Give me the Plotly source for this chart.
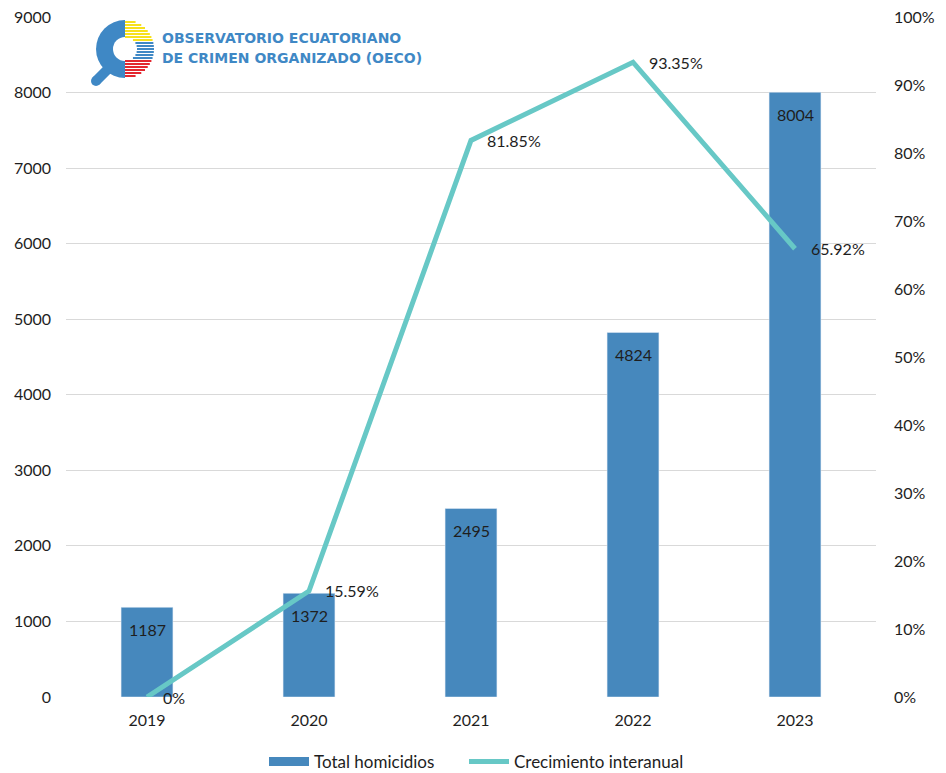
import math
import plotly.graph_objects as go

# ---------------- data ----------------
years = ["2019", "2020", "2021", "2022", "2023"]
homicidios = [1187, 1372, 2495, 4824, 8004]
crecimiento = [0.0, 0.1559, 0.8185, 0.9335, 0.6592]
crec_labels = ["0%", "15.59%", "81.85%", "93.35%", "65.92%"]
left_ticks = [0, 1000, 2000, 3000, 4000, 5000, 6000, 7000, 8000, 9000]
right_ticks = [0, 0.1, 0.2, 0.3, 0.4, 0.5, 0.6, 0.7, 0.8, 0.9, 1.0]
series_names = ["Total homicidios", "Crecimiento interanual"]
logo_lines = ["OBSERVATORIO ECUATORIANO", "DE CRIMEN ORGANIZADO (OECO)"]

# ---------------- layout geometry ----------------
W, H = 946, 773
ML, MR, MT, MB = 66, 70, 17, 76
PW, PH = W - ML - MR, H - MT - MB

def px(x):
    return (x - ML) / PW

def py(y):
    return (H - MB - y) / PH

BAR_C = "#4688bd"
LINE_C = "#67c8c6"
TXT = "#1e1e1e"
FONT = "Lato, 'Open Sans', sans-serif"

fig = go.Figure()
fig.add_bar(x=years, y=homicidios, width=0.32, marker_color=BAR_C,
            name=series_names[0], showlegend=False, hoverinfo="skip")
# legend entry for the bars (wide swatch like the original)
fig.add_scatter(x=[None], y=[None], mode="lines", line=dict(color=BAR_C, width=9),
                name=series_names[0], hoverinfo="skip", legend="legend")
fig.add_scatter(x=years, y=crecimiento, yaxis="y2", mode="lines",
                line=dict(color=LINE_C, width=5), name=series_names[1],
                hoverinfo="skip", legend="legend2")

annotations = []
for i, v in enumerate(homicidios):
    annotations.append(dict(x=i, y=v, xref="x", yref="y", text=str(v),
                            showarrow=False, yanchor="middle", xanchor="center",
                            yshift=-22, font=dict(size=16, color=TXT, family=FONT)))
for i, (v, t) in enumerate(zip(crecimiento, crec_labels)):
    annotations.append(dict(x=i, y=v, xref="x", yref="y2", text=t,
                            showarrow=False, yanchor="middle", xanchor="left",
                            xshift=14, font=dict(size=16, color=TXT, family=FONT)))

# logo text
LOGO_C = "#3f88c5"
annotations.append(dict(x=px(160), y=py(38), xref="paper", yref="paper", text=logo_lines[0],
                        showarrow=False, xanchor="left", yanchor="middle",
                        font=dict(size=14, color=LOGO_C, family="DejaVu Sans", weight="bold")))
annotations.append(dict(x=px(160), y=py(58), xref="paper", yref="paper", text=logo_lines[1],
                        showarrow=False, xanchor="left", yanchor="middle",
                        font=dict(size=14, color=LOGO_C, family="DejaVu Sans", weight="bold")))

# logo icon shapes
shapes = []
cx, cy, Ro, Ri = 125, 49, 29, 12
def circ(x, y, r, color):
    return dict(type="circle", xref="paper", yref="paper",
                x0=px(x - r), x1=px(x + r), y0=py(y + r), y1=py(y - r),
                fillcolor=color, line=dict(width=0), layer="above")
# handle
shapes.append(dict(type="line", xref="paper", yref="paper",
                   x0=px(96), y0=py(81), x1=px(112), y1=py(65),
                   line=dict(color=LOGO_C, width=10), layer="above"))
shapes.append(circ(96, 81, 5, LOGO_C))
shapes.append(circ(cx, cy, Ro, LOGO_C))
shapes.append(circ(cx, cy, Ri, "white"))
shapes.append(dict(type="rect", xref="paper", yref="paper",
                   x0=px(cx), x1=px(cx + Ro + 1), y0=py(cy + Ro + 1), y1=py(cy - Ro - 1),
                   fillcolor="white", line=dict(width=0), layer="above"))
y0 = cy - Ro + 1
while y0 < cy + Ro - 1:
    ym = y0 + 1
    dy = ym - cy
    xo = math.sqrt(max(Ro * Ro - dy * dy, 0))
    xi = math.sqrt(Ri * Ri - dy * dy) if abs(dy) < Ri else 0
    if ym < 43:
        col = "#f7e11b"
    elif ym < 59:
        col = LOGO_C
    else:
        col = "#e3262e"
    if xo - xi > 0.5:
        shapes.append(dict(type="rect", xref="paper", yref="paper",
                           x0=px(cx + xi), x1=px(cx + xo), y0=py(y0 + 2), y1=py(y0),
                           fillcolor=col, line=dict(width=0), layer="above"))
    y0 += 3

legend_common = dict(orientation="h", xanchor="left", y=py(762), yanchor="middle",
                     font=dict(size=17, color=TXT, family=FONT), itemwidth=40,
                     bgcolor="rgba(0,0,0,0)")

fig.update_layout(
    width=W, height=H,
    margin=dict(l=ML, r=MR, t=MT, b=MB, autoexpand=False),
    paper_bgcolor="white", plot_bgcolor="white",
    font=dict(family=FONT, size=16, color=TXT),
    showlegend=True,
    legend=dict(x=px(264), **legend_common),
    legend2=dict(x=px(464), **legend_common),
    xaxis=dict(type="category", range=[-0.5, 4.5], showgrid=False, showline=False,
               zeroline=False, ticks="", automargin=False,
               tickfont=dict(size=16, color=TXT), ticklabelstandoff=12),
    yaxis=dict(range=[0, 9000], tickvals=left_ticks, gridcolor="#d9d9d9", gridwidth=1,
               showline=False, zeroline=False, ticks="", ticklabelstandoff=14,
               automargin=False, tickfont=dict(size=16, color=TXT)),
    yaxis2=dict(range=[0, 1], tickvals=right_ticks, tickformat=".0%", overlaying="y",
                side="right", showgrid=False, showline=False, zeroline=False, ticks="",
                ticklabelstandoff=17, automargin=False, tickfont=dict(size=16, color=TXT)),
    annotations=annotations,
    shapes=shapes,
    hovermode=False,
)

fig.write_html("out.html", config={"displayModeBar": False},
               post_script="document.body.style.margin='0';document.body.style.overflow='hidden';")
